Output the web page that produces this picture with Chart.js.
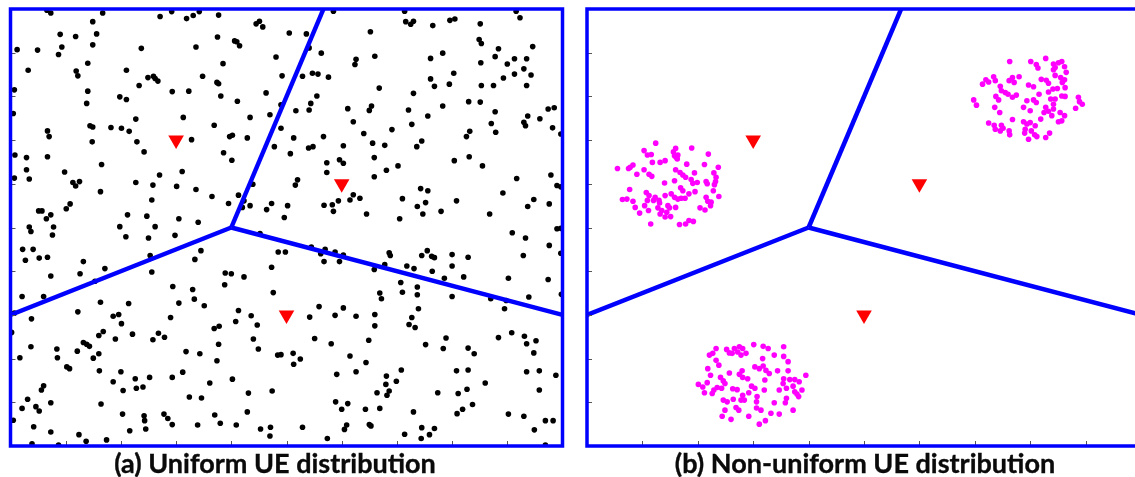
<!DOCTYPE html>
<html>
<head>
<meta charset="utf-8">
<title>UE distribution</title>
<script src="https://cdn.jsdelivr.net/npm/chart.js@4.4.1/dist/chart.umd.min.js"></script>
<style>
  html, body { margin: 0; padding: 0; background: #ffffff; }
  body { width: 1135px; height: 477px; position: relative; overflow: hidden; }
  canvas { position: absolute; top: 0; }
  #panelA { left: 0; }
  #panelB { left: 575px; }
  .caption {
    position: absolute; top: 449px; line-height: 27px;
    font-family: Lato, "Open Sans", sans-serif; font-weight: 700; font-size: 27px;
    color: #0a0a0a; -webkit-text-stroke: 0.35px #0a0a0a;
    white-space: nowrap; transform: translateX(-50%);
  }
</style>
</head>
<body>
<canvas id="panelA" width="575" height="460"></canvas>
<canvas id="panelB" width="575" height="460"></canvas>
<div class="caption" id="capA" style="left:275px"></div>
<div class="caption" id="capB" style="left:865px"></div>
<script>
// Area is 1000 x 1000 (m); tick marks every 100, no tick labels.
const tickValues = [100, 200, 300, 400, 500, 600, 700, 800, 900];

// Base stations (red triangles) and the Voronoi cell edges between them.
const baseStations = [[300, 700], [600, 600], [500, 300]];
const cellVertex = [400, 500];
const cellEdgeEnds = [[567, 1000], [0, 300], [1000, 300]];

const captions = ['(a) Uniform UE distribution', '(b) Non-uniform UE distribution'];

// (a) uniformly scattered UEs
const uniformUEs = [
  [66,997],[73,991],[167,991],[271,983],[292,994],[319,978],[331,985],[342,994],[377,986],[149,971],
  [445,966],[451,972],[457,959],[90,942],[118,937],[156,943],[375,936],[406,927],[410,925],[415,916],
  [12,907],[49,906],[93,913],[87,896],[149,918],[237,910],[336,913],[481,890],[140,876],[385,875],
  [32,860],[119,858],[122,847],[210,860],[249,843],[259,846],[262,841],[267,835],[348,846],[374,832],
  [377,829],[233,825],[7,815],[140,812],[293,811],[323,812],[463,808],[198,799],[210,793],[381,801],
  [411,789],[138,784],[5,761],[313,752],[227,748],[434,752],[470,758],[144,733],[149,730],[182,729],
  [201,727],[215,720],[369,734],[67,721],[70,708],[397,708],[402,711],[429,705],[328,701],[148,696],
  [229,696],[478,685],[8,666],[29,660],[67,662],[242,673],[386,671],[401,654],[165,644],[29,632],
  [7,613],[34,611],[98,627],[270,620],[311,628],[113,603],[118,595],[125,605],[227,603],[258,597],
  [301,594],[336,587],[439,599],[163,582],[365,571],[413,574],[256,563],[423,561],[395,555],[434,550],
  [420,546],[473,555],[464,541],[108,554],[101,543],[51,538],[57,538],[73,529],[65,520],[212,529],
  [247,526],[305,520],[340,512],
  [585,995],[714,995],[916,995],[923,980],[716,971],[725,965],[730,972],[765,962],[796,974],[805,977],
  [851,966],[505,945],[536,943],[652,948],[541,911],[849,930],[853,921],[563,899],[660,892],[626,885],
  [624,873],[761,887],[783,899],[884,909],[946,914],[878,891],[900,874],[913,886],[935,886],[852,877],
  [930,863],[943,849],[913,851],[893,842],[492,847],[529,846],[547,853],[557,851],[576,844],[761,840],
  [768,823],[803,853],[795,828],[853,825],[875,825],[935,825],[668,819],[730,807],[555,801],[544,784],
  [541,769],[517,767],[490,781],[611,772],[650,768],[654,778],[721,769],[783,778],[830,788],[851,787],
  [878,765],[974,771],[985,774],[937,755],[959,749],[756,755],[621,742],[727,736],[871,738],[879,718],
  [930,741],[933,733],[982,728],[997,714],[490,727],[691,724],[640,715],[567,708],[513,705],[826,708],
  [832,720],[656,693],[678,688],[736,685],[745,698],[603,687],[540,682],[548,685],[507,669],[659,660],
  [831,662],[804,653],[855,641],[573,648],[573,626],[596,655],[603,647],[702,641],[681,631],[659,616],
  [979,620],[917,612],[990,596],[997,593],[520,609],[516,597],[743,589],[756,584],[621,575],[615,563],
  [633,567],[594,561],[568,551],[583,552],[585,537],[710,566],[752,557],[737,548],[808,561],[892,579],
  [948,564],[937,548],[976,554],[502,550],[496,523],[645,531],[705,520],[747,531],[780,537],[868,531],
  [34,501],[37,491],[78,501],[76,483],[198,502],[262,502],[209,479],[250,476],[298,482],[452,486],
  [22,450],[41,450],[27,425],[52,430],[67,432],[345,447],[334,427],[253,436],[132,422],[485,444],
  [473,409],[126,394],[73,389],[171,406],[256,398],[153,377],[389,396],[400,394],[423,387],[388,369],
  [294,365],[330,358],[476,351],[21,342],[60,342],[163,329],[214,326],[305,327],[333,336],[351,321],
  [7,304],[122,307],[413,310],[186,297],[196,301],[201,280],[38,291],[290,294],[436,298],[408,285],
  [447,277],[369,269],[378,274],[2,260],[168,262],[160,253],[221,256],[268,258],[279,249],[258,243],
  [190,245],[132,237],[138,233],[143,228],[440,245],[37,227],[377,233],[449,222],[84,222],[121,217],
  [318,216],[343,211],[160,211],[150,201],[17,202],[85,202],[484,208],[374,195],[102,181],[107,177],
  [161,172],[200,170],[312,169],[252,157],[226,154],[293,157],[186,147],[402,153],[361,144],[60,138],
  [56,128],[228,132],[240,135],[204,127],[431,121],[474,126],[324,112],[346,110],[31,107],[21,86],
  [73,99],[46,90],[52,80],[164,96],[203,73],[242,69],[243,58],[278,73],[285,63],[370,71],
  [429,78],[5,59],[42,44],[73,32],[216,35],[245,39],[293,49],[339,48],[380,52],[409,48],
  [453,39],[471,43],[470,23],[124,26],[137,11],[174,14],[39,5],[87,2],
  [498,444],[545,455],[562,440],[570,450],[568,422],[588,444],[596,422],[603,437],[659,404],[686,442],
  [688,436],[678,415],[718,412],[731,406],[745,436],[755,447],[763,434],[768,431],[764,400],[800,438],
  [800,412],[829,432],[786,384],[821,387],[707,374],[710,352],[737,364],[737,346],[739,314],[669,350],
  [672,337],[800,342],[870,337],[898,333],[895,314],[909,488],[933,476],[976,459],[990,497],[997,498],
  [929,436],[997,441],[902,384],[974,381],[939,341],[998,347],[542,295],[559,319],[588,299],[603,316],
  [626,297],[660,301],[660,275],[727,294],[722,278],[733,271],[551,246],[581,234],[649,242],[752,232],
  [789,247],[784,223],[829,224],[840,211],[884,248],[908,259],[931,251],[935,234],[952,241],[948,213],
  [512,212],[525,199],[513,187],[490,209],[615,206],[644,191],[591,164],[626,170],[681,160],[708,174],
  [699,148],[680,141],[686,126],[682,116],[664,122],[808,172],[829,174],[860,144],[774,122],[811,120],
  [827,130],[837,95],[819,84],[809,74],[935,170],[958,172],[988,162],[958,128],[589,101],[600,84],
  [611,97],[643,84],[669,86],[730,78],[902,73],[930,68],[529,43],[609,48],[605,38],[650,49],
  [653,46],[574,17],[714,27],[745,42],[768,40],[759,26],[744,17],[949,37],[969,58],[983,58],
  [969,2]
];

// (b) UEs concentrated in three hotspots
const hotspotWest = [
  [124,693],[160,681],[189,682],[103,676],[109,666],[116,667],[118,649],[156,673],[158,664],[164,666],
  [163,657],[161,661],[219,668],[55,635],[75,635],[83,643],[78,638],[90,622],[103,632],[112,622],
  [117,617],[132,649],[141,653],[180,645],[212,644],[237,638],[160,632],[168,626],[173,620],[178,615],
  [194,625],[229,625],[233,615],[140,602],[158,607],[188,610],[191,601],[199,603],[215,605],[217,600],
  [232,605],[230,598],[77,587],[169,591],[173,584],[184,577],[195,582],[228,584],[64,564],[72,565],
  [83,560],[107,580],[112,573],[109,562],[123,569],[130,562],[141,573],[152,577],[158,569],[164,565],
  [170,567],[177,567],[87,546],[95,533],[104,550],[111,539],[131,556],[128,545],[135,539],[120,562],
  [146,550],[149,545],[144,535],[160,546],[141,524],[151,525],[215,569],[218,560],[224,558],[223,550],
  [238,571],[204,545],[213,540],[192,514],[184,516],[178,508],[167,507],[115,508],[132,531]
];
const hotspotNorthEast = [
  [763,880],[801,880],[811,873],[814,865],[828,887],[842,874],[845,866],[851,877],[857,880],[862,868],
  [842,861],[865,855],[720,838],[714,828],[725,833],[734,845],[737,836],[762,836],[768,843],[771,832],
  [780,845],[797,826],[806,822],[820,839],[829,837],[833,830],[845,848],[855,843],[862,838],[858,832],
  [863,820],[746,823],[748,813],[755,809],[738,800],[743,792],[760,805],[768,798],[775,803],[816,805],
  [833,810],[841,817],[849,818],[794,790],[788,775],[806,792],[811,786],[837,794],[845,794],[842,782],
  [857,801],[863,800],[698,792],[703,780],[887,798],[889,788],[894,782],[882,773],[736,775],[745,763],
  [800,767],[828,775],[833,766],[825,763],[842,771],[839,756],[854,763],[862,756],[857,744],[851,742],
  [819,748],[768,747],[725,739],[735,734],[748,734],[737,725],[751,727],[746,721],[762,721],[763,712],
  [788,742],[794,737],[800,740],[809,733],[791,725],[802,721],[808,712],[797,702],[812,708],[828,706],
  [835,716],[790,716]
];
const hotspotSouth = [
  [301,232],[318,228],[327,223],[355,227],[338,208],[355,205],[363,193],[233,223],[227,212],[221,208],
  [252,221],[257,213],[262,212],[266,223],[275,227],[281,223],[272,215],[278,208],[287,212],[233,196],
  [238,185],[317,200],[218,177],[223,162],[257,167],[241,157],[246,149],[249,143],[275,164],[280,172],
  [281,157],[290,154],[303,181],[311,177],[318,183],[323,173],[329,166],[344,172],[363,172],[321,151],
  [355,154],[354,143],[366,152],[375,152],[383,147],[395,162],[201,141],[209,135],[212,122],[217,145],
  [229,128],[226,120],[235,134],[243,132],[263,131],[271,129],[297,137],[303,132],[320,128],[347,128],
  [360,132],[372,137],[375,124],[379,119],[388,128],[382,113],[281,116],[292,122],[284,105],[278,105],
  [307,113],[306,101],[246,105],[253,101],[264,107],[269,88],[274,82],[249,82],[306,87],[314,82],
  [338,99],[360,109],[358,99],[372,82],[332,75],[347,73],[244,68],[260,61],[292,68],[322,58],
  [311,50]
];

const toXY = pts => pts.map(([x, y]) => ({ x, y }));

// Blue frame with short inward tick marks on the left and bottom sides.
const framePlugin = {
  id: 'frame',
  afterDatasetsDraw(chart) {
    const { ctx, chartArea: a, scales: { x, y } } = chart;
    ctx.save();
    ctx.strokeStyle = '#555555';
    ctx.lineWidth = 1;
    tickValues.forEach(v => {
      const py = Math.round(y.getPixelForValue(v)) + 0.5;
      ctx.beginPath(); ctx.moveTo(a.left, py); ctx.lineTo(a.left + 5, py); ctx.stroke();
      const px = Math.round(x.getPixelForValue(v)) + 0.5;
      ctx.beginPath(); ctx.moveTo(px, a.bottom); ctx.lineTo(px, a.bottom - 5); ctx.stroke();
    });
    ctx.strokeStyle = '#0000ff';
    ctx.lineWidth = 3.5;
    ctx.strokeRect(a.left, a.top, a.right - a.left, a.bottom - a.top);
    ctx.restore();
  }
};

function buildPanel(canvasId, ueSets, ueColor, padding) {
  const ueDatasets = ueSets.map(set => ({
    data: toXY(set),
    pointRadius: 2.8,
    pointBackgroundColor: ueColor,
    pointBorderWidth: 0,
    order: 3
  }));
  const edgeDatasets = cellEdgeEnds.map(end => ({
    data: toXY([cellVertex, end]),
    showLine: true,
    borderColor: '#0000ff',
    borderWidth: 4.5,
    pointRadius: 0,
    order: 2
  }));
  const bsDataset = {
    data: toXY(baseStations),
    pointStyle: 'triangle',
    rotation: 180,
    pointRadius: 9,
    pointBackgroundColor: '#ff0000',
    pointBorderWidth: 0,
    order: 1
  };
  return new Chart(document.getElementById(canvasId), {
    type: 'scatter',
    data: { datasets: [...ueDatasets, ...edgeDatasets, bsDataset] },
    options: {
      responsive: false,
      animation: false,
      events: [],
      layout: { padding },
      plugins: { legend: { display: false }, tooltip: { enabled: false } },
      scales: {
        x: { type: 'linear', min: 0, max: 1000, display: false },
        y: { type: 'linear', min: 0, max: 1000, display: false }
      }
    },
    plugins: [framePlugin]
  });
}

buildPanel('panelA', [uniformUEs], '#000000', { left: 10.5, right: 12.5, top: 8, bottom: 14 });
buildPanel('panelB', [hotspotWest, hotspotNorthEast, hotspotSouth], '#ff00ff', { left: 12, right: 7.5, top: 8, bottom: 14 });

document.getElementById('capA').textContent = captions[0];
document.getElementById('capB').textContent = captions[1];
</script>
</body>
</html>
